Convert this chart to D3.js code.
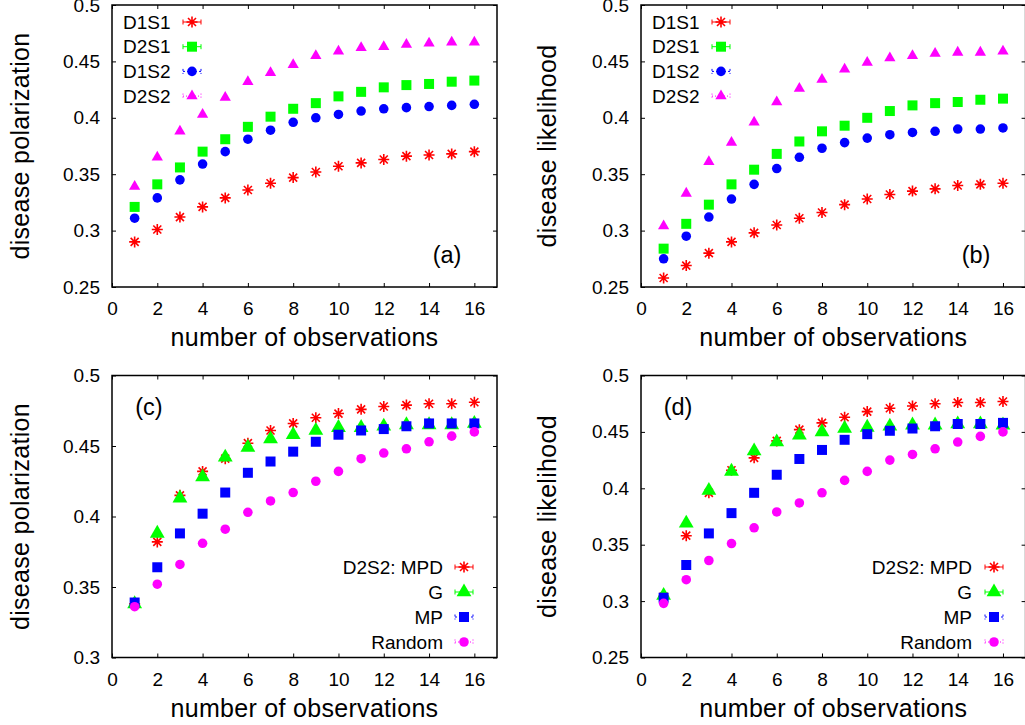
<!DOCTYPE html>
<html>
<head>
<meta charset="utf-8">
<script src="https://cdn.jsdelivr.net/npm/d3@7"></script>
<style>
  body { margin: 0; background: #fff; }
  svg text { font-family: "Liberation Sans", Arial, sans-serif; fill: #000; }
  .tick text { font-size: 19px; }
  .tick line { stroke: #000; stroke-width: 1; }
  .frame { fill: none; stroke: #000; stroke-width: 1.5; }
</style>
</head>
<body>
<svg id="chart" width="1025" height="725"></svg>
<script>
// x positions
const OBS = [1, 2, 3, 4, 5, 6, 7, 8, 9, 10, 11, 12, 13, 14, 15, 16];
const X_TICKS = [0, 2, 4, 6, 8, 10, 12, 14, 16];
const Y_TICKS_AB = [0.25, 0.3, 0.35, 0.4, 0.45, 0.5];
const Y_TICKS_C = [0.3, 0.35, 0.4, 0.45, 0.5];
const Y_TICKS_D = [0.25, 0.3, 0.35, 0.4, 0.45, 0.5];

// (a) disease polarization
const A_D1S1 = [0.290, 0.301, 0.312, 0.321, 0.329, 0.336, 0.342, 0.347, 0.352, 0.357, 0.360, 0.363, 0.366, 0.367, 0.368, 0.370];
const A_D2S1 = [0.321, 0.341, 0.356, 0.370, 0.381, 0.392, 0.401, 0.408, 0.413, 0.419, 0.423, 0.427, 0.429, 0.430, 0.432, 0.433];
const A_D1S2 = [0.311, 0.329, 0.345, 0.359, 0.370, 0.381, 0.389, 0.396, 0.400, 0.403, 0.406, 0.408, 0.409, 0.410, 0.411, 0.412];
const A_D2S2 = [0.339, 0.365, 0.388, 0.403, 0.418, 0.432, 0.440, 0.447, 0.455, 0.459, 0.462, 0.463, 0.465, 0.466, 0.467, 0.467];

// (b) disease likelihood
const B_D1S1 = [0.258, 0.269, 0.280, 0.290, 0.298, 0.305, 0.311, 0.316, 0.323, 0.328, 0.332, 0.335, 0.337, 0.340, 0.341, 0.342];
const B_D2S1 = [0.284, 0.306, 0.323, 0.341, 0.354, 0.368, 0.379, 0.388, 0.393, 0.400, 0.406, 0.411, 0.413, 0.414, 0.416, 0.417];
const B_D1S2 = [0.275, 0.295, 0.312, 0.328, 0.341, 0.355, 0.365, 0.373, 0.378, 0.382, 0.385, 0.387, 0.388, 0.390, 0.390, 0.391];
const B_D2S2 = [0.304, 0.333, 0.361, 0.378, 0.396, 0.414, 0.426, 0.434, 0.443, 0.449, 0.453, 0.455, 0.457, 0.458, 0.458, 0.459];

// (c) D2S2 polarization by strategy
const C_MPD = [0.338, 0.382, 0.415, 0.432, 0.441, 0.452, 0.461, 0.466, 0.470, 0.473, 0.476, 0.478, 0.479, 0.480, 0.480, 0.481];
const C_G = [0.338, 0.388, 0.413, 0.428, 0.442, 0.449, 0.455, 0.458, 0.461, 0.463, 0.463, 0.464, 0.465, 0.465, 0.465, 0.466];
const C_MP = [0.339, 0.364, 0.388, 0.402, 0.417, 0.431, 0.439, 0.446, 0.453, 0.458, 0.461, 0.462, 0.464, 0.466, 0.466, 0.466];
const C_RANDOM = [0.336, 0.352, 0.366, 0.381, 0.391, 0.403, 0.411, 0.417, 0.425, 0.432, 0.441, 0.445, 0.448, 0.453, 0.457, 0.460];

// (d) D2S2 likelihood by strategy
const D_MPD = [0.304, 0.358, 0.396, 0.416, 0.427, 0.442, 0.452, 0.458, 0.463, 0.468, 0.471, 0.473, 0.475, 0.476, 0.476, 0.477];
const D_G = [0.305, 0.369, 0.398, 0.415, 0.433, 0.441, 0.447, 0.450, 0.453, 0.454, 0.455, 0.456, 0.456, 0.457, 0.457, 0.456];
const D_MP = [0.303, 0.332, 0.360, 0.378, 0.396, 0.412, 0.426, 0.434, 0.443, 0.448, 0.451, 0.453, 0.455, 0.457, 0.457, 0.458];
const D_RANDOM = [0.298, 0.319, 0.336, 0.351, 0.365, 0.379, 0.387, 0.396, 0.407, 0.415, 0.425, 0.430, 0.435, 0.441, 0.446, 0.450];

const LEG_TOP = ["D1S1", "D2S1", "D1S2", "D2S2"];
const LEG_BOTTOM = ["D2S2: MPD", "G", "MP", "Random"];

var svg = d3.select("svg#chart");

// marker styles
const STY = {
  star:   {color: "#ff0000", dash: null},
  square: {color: "#00ff00", dash: null},
  circle: {color: "#0000ff", dash: "2,2"},
  tri:    {color: "#ff00ff", dash: "1,2"},
  triG:   {color: "#00ff00", dash: null},
  sqB:    {color: "#0000ff", dash: "2,2"},
  circM:  {color: "#ff00ff", dash: "1,2"}
};

const drawMarker = (g, shape, color) => {
  if (shape === "star" ) {
    const r = 5.5, q = 4;
    g.append("path")
      .attr("d", `M${-r},0H${r}M0,${-r}V${r}M${-q},${-q}L${q},${q}M${-q},${q}L${q},${-q}`)
      .attr("stroke", color).attr("stroke-width", 1.6).attr("fill", "none");
  } else {
    var sym;
    if (shape === "square" || shape === "sqB") sym = d3.symbol(d3.symbolSquare, 100);
    else if (shape === "circle" || shape === "circM") sym = d3.symbol(d3.symbolCircle, 72);
    else if (shape === "triG") sym = d3.symbol(d3.symbolTriangle, 95);
    else sym = d3.symbol(d3.symbolTriangle, 55);
    g.append("path").attr("d", sym()).attr("fill", color);
  }
};

const drawPanel = (p) => {
  var x = d3.scaleLinear().domain([0, 17]).range([p.x0, p.x1]);
  var y = d3.scaleLinear().domain(p.yDomain).range([p.y1, p.y0]);

  var g = svg.append("g");

  // axes with inward ticks, gnuplot style
  g.append("g").attr("transform", `translate(0,${p.y1})`)
    .call(d3.axisBottom(x).tickValues(X_TICKS).tickSize(-4).tickPadding(15).tickFormat(d3.format("d")))
    .call(a => a.select(".domain").remove());
  g.append("g").attr("transform", `translate(0,${p.y0})`)
    .call(d3.axisTop(x).tickValues(X_TICKS).tickSize(-4).tickFormat(""))
    .call(a => a.select(".domain").remove());
  g.append("g").attr("transform", `translate(${p.x0},0)`)
    .call(d3.axisLeft(y).tickValues(p.yTicks).tickSize(-4).tickPadding(12).tickFormat(d => d3.format("")(+d.toFixed(2))))
    .call(a => a.select(".domain").remove());
  g.append("g").attr("transform", `translate(${p.x1},0)`)
    .call(d3.axisRight(y).tickValues(p.yTicks).tickSize(-4).tickFormat(""))
    .call(a => a.select(".domain").remove());

  g.selectAll(".tick text").attr("font-size", null);
  g.selectAll(".tick line").attr("stroke", "#000");

  g.append("rect").attr("class", "frame")
    .attr("x", p.x0).attr("y", p.y0)
    .attr("width", p.x1 - p.x0).attr("height", p.y1 - p.y0);

  // axis titles
  g.append("text")
    .attr("x", (p.x0 + p.x1) / 2).attr("y", p.y1 + 59)
    .attr("text-anchor", "middle")
    .style("font-size", "25px").style("letter-spacing", "0.3px")
    .text("number of observations");
  g.append("text")
    .attr("transform", `translate(${p.ytx},${(p.y0 + p.y1) / 2}) rotate(-90)`)
    .attr("text-anchor", "middle").attr("dy", "0.35em")
    .style("font-size", "25px").style("letter-spacing", "0.3px")
    .text(p.yTitle);

  // panel label
  g.append("text")
    .attr("x", p.lab[0]).attr("y", p.lab[1]).attr("dy", "0.35em")
    .attr("text-anchor", "middle")
    .style("font-size", "23.5px")
    .text(p.label);

  // points
  p.series.forEach((s) => {
    var pts = g.append("g");
    s.values.forEach((v, i) => {
      var m = pts.append("g").attr("transform", `translate(${x(OBS[i])},${y(v)})`);
      drawMarker(m, s.shape, STY[s.shape].color);
    });
  });

  // legend
  p.series.forEach((s, i) => {
    var ly = p.legY + i * p.legStep;
    var st = STY[s.shape];
    g.append("text")
      .attr("x", p.legTextX).attr("y", ly).attr("dy", "0.35em")
      .attr("text-anchor", p.legAnchor)
      .style("font-size", "19px")
      .text(s.name);
    var lg = g.append("g").attr("transform", `translate(${p.legSymX},${ly})`);
    lg.append("path")
      .attr("d", "M-9,0H9M-9,-2.5V2.5M9,-2.5V2.5")
      .attr("stroke", st.color).attr("stroke-width", 1)
      .attr("stroke-dasharray", st.dash).attr("fill", "none");
    drawMarker(lg, s.shape, st.color);
  });
};

drawPanel({
  x0: 112, x1: 497, y0: 5, y1: 287, yDomain: [0.25, 0.5], yTicks: Y_TICKS_AB,
  ytx: 20, yTitle: "disease polarization", label: "(a)", lab: [447, 255],
  legY: 22, legStep: 24.7, legTextX: 123, legAnchor: "start", legSymX: 192,
  series: [
    {name: LEG_TOP[0], values: A_D1S1, shape: "star"},
    {name: LEG_TOP[1], values: A_D2S1, shape: "square"},
    {name: LEG_TOP[2], values: A_D1S2, shape: "circle"},
    {name: LEG_TOP[3], values: A_D2S2, shape: "tri"}
  ]
});

drawPanel({
  x0: 641, x1: 1025.6, y0: 5, y1: 287, yDomain: [0.25, 0.5], yTicks: Y_TICKS_AB,
  ytx: 547, yTitle: "disease likelihood", label: "(b)", lab: [976, 255],
  legY: 22, legStep: 24.7, legTextX: 652, legAnchor: "start", legSymX: 721,
  series: [
    {name: LEG_TOP[0], values: B_D1S1, shape: "star"},
    {name: LEG_TOP[1], values: B_D2S1, shape: "square"},
    {name: LEG_TOP[2], values: B_D1S2, shape: "circle"},
    {name: LEG_TOP[3], values: B_D2S2, shape: "tri"}
  ]
});

drawPanel({
  x0: 112, x1: 497, y0: 375.5, y1: 657.5, yDomain: [0.3, 0.5], yTicks: Y_TICKS_C,
  ytx: 20, yTitle: "disease polarization", label: "(c)", lab: [149, 407],
  legY: 567, legStep: 25, legTextX: 443, legAnchor: "end", legSymX: 464,
  series: [
    {name: LEG_BOTTOM[0], values: C_MPD, shape: "star"},
    {name: LEG_BOTTOM[1], values: C_G, shape: "triG"},
    {name: LEG_BOTTOM[2], values: C_MP, shape: "sqB"},
    {name: LEG_BOTTOM[3], values: C_RANDOM, shape: "circM"}
  ]
});

drawPanel({
  x0: 641, x1: 1025.6, y0: 375.5, y1: 657.5, yDomain: [0.25, 0.5], yTicks: Y_TICKS_D,
  ytx: 547, yTitle: "disease likelihood", label: "(d)", lab: [678, 407],
  legY: 567, legStep: 25, legTextX: 972, legAnchor: "end", legSymX: 994,
  series: [
    {name: LEG_BOTTOM[0], values: D_MPD, shape: "star"},
    {name: LEG_BOTTOM[1], values: D_G, shape: "triG"},
    {name: LEG_BOTTOM[2], values: D_MP, shape: "sqB"},
    {name: LEG_BOTTOM[3], values: D_RANDOM, shape: "circM"}
  ]
});
</script>
</body>
</html>
